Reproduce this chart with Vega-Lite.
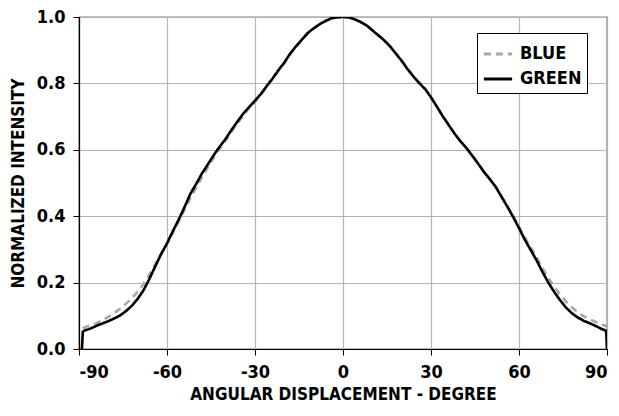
{
  "$schema": "https://vega.github.io/schema/vega-lite/v6.json",
  "width": 528,
  "height": 332,
  "autosize": {"type": "none"},
  "padding": {"left": 79, "top": 17, "right": 12, "bottom": 67},
  "background": "white",
  "config": {
    "font": "DejaVu Sans Condensed, Roboto, sans-serif",
    "view": {"stroke": "#000000", "strokeWidth": 1.2},
    "axis": {
      "labelFont": "DejaVu Sans Condensed, Roboto, sans-serif",
      "titleFont": "DejaVu Sans Condensed, Roboto, sans-serif",
      "labelFontWeight": "bold",
      "titleFontWeight": "bold",
      "labelFontSize": 18,
      "titleFontSize": 17,
      "labelColor": "#000000",
      "titleColor": "#000000",
      "domainColor": "#000000",
      "domainWidth": 1.2,
      "tickColor": "#000000",
      "tickSize": 6,
      "gridColor": "#b4b4b4",
      "gridWidth": 1.2
    }
  },
  "data": {
    "values": [
      {"series": "BLUE", "x": -88.7, "y": 0.062},
      {"series": "BLUE", "x": -88, "y": 0.066},
      {"series": "BLUE", "x": -86, "y": 0.071},
      {"series": "BLUE", "x": -84, "y": 0.078},
      {"series": "BLUE", "x": -82, "y": 0.087},
      {"series": "BLUE", "x": -80, "y": 0.097},
      {"series": "BLUE", "x": -78, "y": 0.108},
      {"series": "BLUE", "x": -76, "y": 0.121},
      {"series": "BLUE", "x": -74, "y": 0.136},
      {"series": "BLUE", "x": -72, "y": 0.153},
      {"series": "BLUE", "x": -70, "y": 0.173},
      {"series": "BLUE", "x": -68, "y": 0.196},
      {"series": "BLUE", "x": -66, "y": 0.224},
      {"series": "BLUE", "x": -64, "y": 0.255},
      {"series": "BLUE", "x": -62, "y": 0.287},
      {"series": "BLUE", "x": -60, "y": 0.317},
      {"series": "BLUE", "x": -58, "y": 0.35},
      {"series": "BLUE", "x": -56, "y": 0.384},
      {"series": "BLUE", "x": -54, "y": 0.419},
      {"series": "BLUE", "x": -52, "y": 0.455},
      {"series": "BLUE", "x": -50, "y": 0.487},
      {"series": "BLUE", "x": -48, "y": 0.519},
      {"series": "BLUE", "x": -46, "y": 0.548},
      {"series": "BLUE", "x": -44, "y": 0.577},
      {"series": "BLUE", "x": -42, "y": 0.603},
      {"series": "BLUE", "x": -40, "y": 0.628},
      {"series": "BLUE", "x": -38, "y": 0.655},
      {"series": "BLUE", "x": -36, "y": 0.68},
      {"series": "BLUE", "x": -34, "y": 0.703},
      {"series": "BLUE", "x": -32, "y": 0.725},
      {"series": "BLUE", "x": -30, "y": 0.745},
      {"series": "BLUE", "x": -28, "y": 0.766},
      {"series": "BLUE", "x": -26, "y": 0.79},
      {"series": "BLUE", "x": -24, "y": 0.813},
      {"series": "BLUE", "x": -22, "y": 0.838},
      {"series": "BLUE", "x": -20, "y": 0.861},
      {"series": "BLUE", "x": -18, "y": 0.888},
      {"series": "BLUE", "x": -16, "y": 0.91},
      {"series": "BLUE", "x": -14, "y": 0.931},
      {"series": "BLUE", "x": -12, "y": 0.951},
      {"series": "BLUE", "x": -10, "y": 0.965},
      {"series": "BLUE", "x": -8, "y": 0.977},
      {"series": "BLUE", "x": -6, "y": 0.987},
      {"series": "BLUE", "x": -4, "y": 0.995},
      {"series": "BLUE", "x": -2, "y": 0.999},
      {"series": "BLUE", "x": 0, "y": 1.0},
      {"series": "BLUE", "x": 2, "y": 0.999},
      {"series": "BLUE", "x": 4, "y": 0.993},
      {"series": "BLUE", "x": 6, "y": 0.985},
      {"series": "BLUE", "x": 8, "y": 0.975},
      {"series": "BLUE", "x": 10, "y": 0.961},
      {"series": "BLUE", "x": 12, "y": 0.946},
      {"series": "BLUE", "x": 14, "y": 0.931},
      {"series": "BLUE", "x": 16, "y": 0.913},
      {"series": "BLUE", "x": 18, "y": 0.891},
      {"series": "BLUE", "x": 20, "y": 0.869},
      {"series": "BLUE", "x": 22, "y": 0.844},
      {"series": "BLUE", "x": 24, "y": 0.822},
      {"series": "BLUE", "x": 26, "y": 0.802},
      {"series": "BLUE", "x": 28, "y": 0.784},
      {"series": "BLUE", "x": 30, "y": 0.759},
      {"series": "BLUE", "x": 32, "y": 0.731},
      {"series": "BLUE", "x": 34, "y": 0.702},
      {"series": "BLUE", "x": 36, "y": 0.676},
      {"series": "BLUE", "x": 38, "y": 0.65},
      {"series": "BLUE", "x": 40, "y": 0.627},
      {"series": "BLUE", "x": 42, "y": 0.607},
      {"series": "BLUE", "x": 44, "y": 0.584},
      {"series": "BLUE", "x": 46, "y": 0.56},
      {"series": "BLUE", "x": 48, "y": 0.535},
      {"series": "BLUE", "x": 50, "y": 0.513},
      {"series": "BLUE", "x": 52, "y": 0.49},
      {"series": "BLUE", "x": 54, "y": 0.461},
      {"series": "BLUE", "x": 56, "y": 0.432},
      {"series": "BLUE", "x": 58, "y": 0.402},
      {"series": "BLUE", "x": 60, "y": 0.368},
      {"series": "BLUE", "x": 62, "y": 0.336},
      {"series": "BLUE", "x": 64, "y": 0.306},
      {"series": "BLUE", "x": 66, "y": 0.276},
      {"series": "BLUE", "x": 68, "y": 0.244},
      {"series": "BLUE", "x": 70, "y": 0.214},
      {"series": "BLUE", "x": 72, "y": 0.188},
      {"series": "BLUE", "x": 74, "y": 0.164},
      {"series": "BLUE", "x": 76, "y": 0.143},
      {"series": "BLUE", "x": 78, "y": 0.126},
      {"series": "BLUE", "x": 80, "y": 0.111},
      {"series": "BLUE", "x": 82, "y": 0.099},
      {"series": "BLUE", "x": 84, "y": 0.09},
      {"series": "BLUE", "x": 86, "y": 0.082},
      {"series": "BLUE", "x": 88, "y": 0.075},
      {"series": "BLUE", "x": 90, "y": 0.068},
      {"series": "GREEN", "x": -89, "y": 0.0},
      {"series": "GREEN", "x": -88.7, "y": 0.052},
      {"series": "GREEN", "x": -88, "y": 0.056},
      {"series": "GREEN", "x": -86, "y": 0.062},
      {"series": "GREEN", "x": -84, "y": 0.07},
      {"series": "GREEN", "x": -82, "y": 0.077},
      {"series": "GREEN", "x": -80, "y": 0.084},
      {"series": "GREEN", "x": -78, "y": 0.092},
      {"series": "GREEN", "x": -76, "y": 0.101},
      {"series": "GREEN", "x": -74, "y": 0.114},
      {"series": "GREEN", "x": -72, "y": 0.13},
      {"series": "GREEN", "x": -70, "y": 0.151},
      {"series": "GREEN", "x": -68, "y": 0.177},
      {"series": "GREEN", "x": -66, "y": 0.211},
      {"series": "GREEN", "x": -64, "y": 0.249},
      {"series": "GREEN", "x": -62, "y": 0.286},
      {"series": "GREEN", "x": -60, "y": 0.318},
      {"series": "GREEN", "x": -58, "y": 0.355},
      {"series": "GREEN", "x": -56, "y": 0.39},
      {"series": "GREEN", "x": -54, "y": 0.428},
      {"series": "GREEN", "x": -52, "y": 0.468},
      {"series": "GREEN", "x": -50, "y": 0.498},
      {"series": "GREEN", "x": -48, "y": 0.53},
      {"series": "GREEN", "x": -46, "y": 0.557},
      {"series": "GREEN", "x": -44, "y": 0.585},
      {"series": "GREEN", "x": -42, "y": 0.61},
      {"series": "GREEN", "x": -40, "y": 0.633},
      {"series": "GREEN", "x": -38, "y": 0.66},
      {"series": "GREEN", "x": -36, "y": 0.685},
      {"series": "GREEN", "x": -34, "y": 0.709},
      {"series": "GREEN", "x": -32, "y": 0.729},
      {"series": "GREEN", "x": -30, "y": 0.748},
      {"series": "GREEN", "x": -28, "y": 0.768},
      {"series": "GREEN", "x": -26, "y": 0.792},
      {"series": "GREEN", "x": -24, "y": 0.815},
      {"series": "GREEN", "x": -22, "y": 0.84},
      {"series": "GREEN", "x": -20, "y": 0.863},
      {"series": "GREEN", "x": -18, "y": 0.89},
      {"series": "GREEN", "x": -16, "y": 0.912},
      {"series": "GREEN", "x": -14, "y": 0.932},
      {"series": "GREEN", "x": -12, "y": 0.952},
      {"series": "GREEN", "x": -10, "y": 0.966},
      {"series": "GREEN", "x": -8, "y": 0.978},
      {"series": "GREEN", "x": -6, "y": 0.988},
      {"series": "GREEN", "x": -4, "y": 0.996},
      {"series": "GREEN", "x": -2, "y": 0.999},
      {"series": "GREEN", "x": 0, "y": 1.0},
      {"series": "GREEN", "x": 2, "y": 0.999},
      {"series": "GREEN", "x": 4, "y": 0.993},
      {"series": "GREEN", "x": 6, "y": 0.985},
      {"series": "GREEN", "x": 8, "y": 0.975},
      {"series": "GREEN", "x": 10, "y": 0.96},
      {"series": "GREEN", "x": 12, "y": 0.945},
      {"series": "GREEN", "x": 14, "y": 0.93},
      {"series": "GREEN", "x": 16, "y": 0.912},
      {"series": "GREEN", "x": 18, "y": 0.89},
      {"series": "GREEN", "x": 20, "y": 0.868},
      {"series": "GREEN", "x": 22, "y": 0.843},
      {"series": "GREEN", "x": 24, "y": 0.821},
      {"series": "GREEN", "x": 26, "y": 0.801},
      {"series": "GREEN", "x": 28, "y": 0.783},
      {"series": "GREEN", "x": 30, "y": 0.758},
      {"series": "GREEN", "x": 32, "y": 0.73},
      {"series": "GREEN", "x": 34, "y": 0.701},
      {"series": "GREEN", "x": 36, "y": 0.675},
      {"series": "GREEN", "x": 38, "y": 0.649},
      {"series": "GREEN", "x": 40, "y": 0.626},
      {"series": "GREEN", "x": 42, "y": 0.606},
      {"series": "GREEN", "x": 44, "y": 0.583},
      {"series": "GREEN", "x": 46, "y": 0.559},
      {"series": "GREEN", "x": 48, "y": 0.534},
      {"series": "GREEN", "x": 50, "y": 0.512},
      {"series": "GREEN", "x": 52, "y": 0.489},
      {"series": "GREEN", "x": 54, "y": 0.459},
      {"series": "GREEN", "x": 56, "y": 0.429},
      {"series": "GREEN", "x": 58, "y": 0.398},
      {"series": "GREEN", "x": 60, "y": 0.364},
      {"series": "GREEN", "x": 62, "y": 0.329},
      {"series": "GREEN", "x": 64, "y": 0.298},
      {"series": "GREEN", "x": 66, "y": 0.267},
      {"series": "GREEN", "x": 68, "y": 0.232},
      {"series": "GREEN", "x": 70, "y": 0.2},
      {"series": "GREEN", "x": 72, "y": 0.172},
      {"series": "GREEN", "x": 74, "y": 0.147},
      {"series": "GREEN", "x": 76, "y": 0.125},
      {"series": "GREEN", "x": 78, "y": 0.108},
      {"series": "GREEN", "x": 80, "y": 0.095},
      {"series": "GREEN", "x": 82, "y": 0.085},
      {"series": "GREEN", "x": 84, "y": 0.078},
      {"series": "GREEN", "x": 86, "y": 0.07},
      {"series": "GREEN", "x": 88, "y": 0.061},
      {"series": "GREEN", "x": 89.7, "y": 0.055},
      {"series": "GREEN", "x": 90, "y": 0.0}
    ]
  },
  "mark": {"type": "line", "strokeWidth": 2.6, "clip": true},
  "encoding": {
    "x": {
      "field": "x",
      "type": "quantitative",
      "scale": {"domain": [-90, 90], "nice": false, "zero": false},
      "axis": {
        "values": [-90, -60, -30, 0, 30, 60, 90],
        "labelExpr": "replace(datum.label, '\u2212', '-')",
        "title": "ANGULAR DISPLACEMENT - DEGREE",
        "labelPadding": 8,
        "titlePadding": 5
      }
    },
    "y": {
      "field": "y",
      "type": "quantitative",
      "scale": {"domain": [0, 1], "nice": false},
      "axis": {
        "values": [0, 0.2, 0.4, 0.6, 0.8, 1.0],
        "format": ".1f",
        "title": "NORMALIZED INTENSITY",
        "labelPadding": 8,
        "titlePadding": 9
      }
    },
    "color": {
      "field": "series",
      "type": "nominal",
      "scale": {"domain": ["BLUE", "GREEN"], "range": ["#a8a8a8", "#000000"]},
      "legend": {
        "title": null,
        "orient": "none",
        "legendX": 398,
        "legendY": 16,
        "symbolType": "stroke",
        "symbolSize": 800,
        "symbolStrokeWidth": 3,
        "labelFont": "DejaVu Sans Condensed, Roboto, sans-serif",
        "labelFontWeight": "bold",
        "labelFontSize": 18,
        "labelColor": "#000000",
        "labelOffset": 6,
        "rowPadding": 0,
        "padding": 5,
        "strokeColor": "#000000",
        "fillColor": "#ffffff"
      }
    },
    "strokeDash": {
      "field": "series",
      "type": "nominal",
      "scale": {"domain": ["BLUE", "GREEN"], "range": [[7, 5], [1, 0]]},
      "legend": null
    }
  }
}
